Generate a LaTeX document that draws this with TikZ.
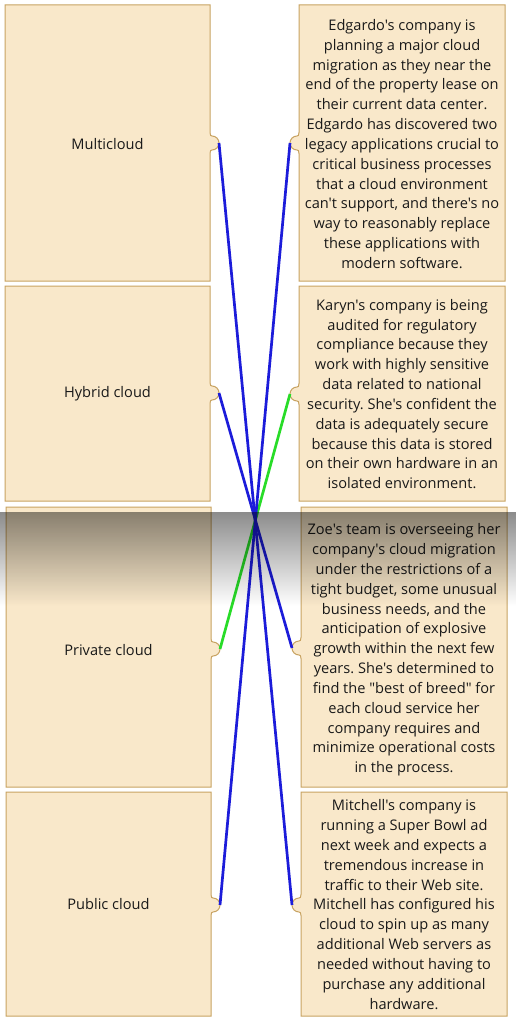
\documentclass[tikz,border=0pt]{standalone}
\usepackage{fontspec}
\setmainfont{Open Sans}[Ligatures=TeXOff]
\definecolor{boxfill}{RGB}{249,232,202}
\definecolor{boxdraw}{RGB}{200,163,98}
\definecolor{lblue}{RGB}{28,28,218}
\definecolor{lgreen}{RGB}{40,220,40}
\definecolor{txt}{RGB}{25,25,25}
\definecolor{shtop}{RGB}{140,140,140}
\definecolor{shmid}{RGB}{200,200,200}
\newcommand\LeftBox[5]{% x1 x2 ytop ybot yc
  \draw[boxstyle] (#1,-#3) -- (#2,-#3) -- (#2,-#5+10.5)
    .. controls (#2,-#5+7.5) and (#2+1,-#5+7) .. (#2+2,-#5+7)
    arc[start angle=90, end angle=-90, radius=7]
    .. controls (#2+1,-#5-7) and (#2,-#5-7.5) .. (#2,-#5-10.5)
    -- (#2,-#4) -- (#1,-#4) -- cycle;}
\newcommand\RightBox[5]{% x1 x2 ytop ybot yc
  \draw[boxstyle] (#1,-#3) -- (#2,-#3) -- (#2,-#4) -- (#1,-#4) -- (#1,-#5-10.5)
    .. controls (#1,-#5-7.5) and (#1-1,-#5-7) .. (#1-2,-#5-7)
    arc[start angle=-90, end angle=-270, radius=7]
    .. controls (#1-1,-#5+7) and (#1,-#5+7.5) .. (#1,-#5+10.5) -- cycle;}
\begin{document}
\frenchspacing
\begin{tikzpicture}[x=1pt,y=1pt,
  boxstyle/.style={fill=boxfill, draw=boxdraw, line width=1pt},
  label/.style={inner sep=0pt, align=center, text=txt, font=\fontsize{14.6}{19.83}\selectfont},
  link/.style={line width=2.7pt}]
\useasboundingbox[fill=white] (0,0) rectangle (516,-1024);
% left boxes
\LeftBox{5}{210}{5}{281}{143}
\LeftBox{5}{210}{286}{501}{393}
\LeftBox{6}{211}{507}{787}{649}
\LeftBox{6}{211}{792}{1016}{905}
% right boxes
\RightBox{299}{505}{5}{281}{143}
\RightBox{299}{505}{286}{501}{394}
\RightBox{301}{507}{507}{787}{648}
\RightBox{301}{507}{792}{1016}{905}
% tips
\coordinate (L1) at (219,-143);
\coordinate (L2) at (219,-393);
\coordinate (L3) at (220,-649);
\coordinate (L4) at (220,-905);
\coordinate (R1) at (290,-143);
\coordinate (R2) at (290,-394);
\coordinate (R3) at (292,-648);
\coordinate (R4) at (292,-905);
% left labels
\node[label] (multi) at (107.5,-144) {Multicloud};
\node[label] (hybrid) at (107.5,-394) {Hybrid cloud};
\node[label] (private) at (108.5,-650) {Private cloud};
\node[label] (public) at (108.5,-904) {Public cloud};
% right texts
\node[label] (edgardo) at (402,-144) {Edgardo's company is\\planning a major cloud\\migration as they near the\\end of the property lease on\\their current data center.\\Edgardo has discovered two\\legacy applications crucial to\\critical business processes\\that a cloud environment\\can't support, and there's no\\way to reasonably replace\\these applications with\\modern software.};
\node[label] (karyn) at (402,-394) {Karyn's company is being\\audited for regulatory\\compliance because they\\work with highly sensitive\\data related to national\\security. She's confident the\\data is adequately secure\\because this data is stored\\on their own hardware in an\\isolated environment.};
\node[label] (zoe) at (404,-650) {Zoe's team is overseeing her\\company's cloud migration\\under the restrictions of a\\tight budget, some unusual\\business needs, and the\\anticipation of explosive\\growth within the next few\\years. She's determined to\\find the "best of breed" for\\each cloud service her\\company requires and\\minimize operational costs\\in the process.};
\node[label] (mitchell) at (404,-904.5) {Mitchell's company is\\running a Super Bowl ad\\next week and expects a\\tremendous increase in\\traffic to their Web site.\\Mitchell has configured his\\cloud to spin up as many\\additional Web servers as\\needed without having to\\purchase any additional\\hardware.};
% connectors
\draw[link, lgreen] (L3) -- (R2);
\draw[link, lblue] (L1) -- (R4);
\draw[link, lblue] (L2) -- (R3);
\draw[link, lblue] (L4) -- (R1);
% shadow band (multiplied over the picture)
\begin{scope}[blend mode=multiply]
\shade[top color=shtop, middle color=shmid, bottom color=white] (0,-512) rectangle (516,-606);
\end{scope}
\end{tikzpicture}
\end{document}
